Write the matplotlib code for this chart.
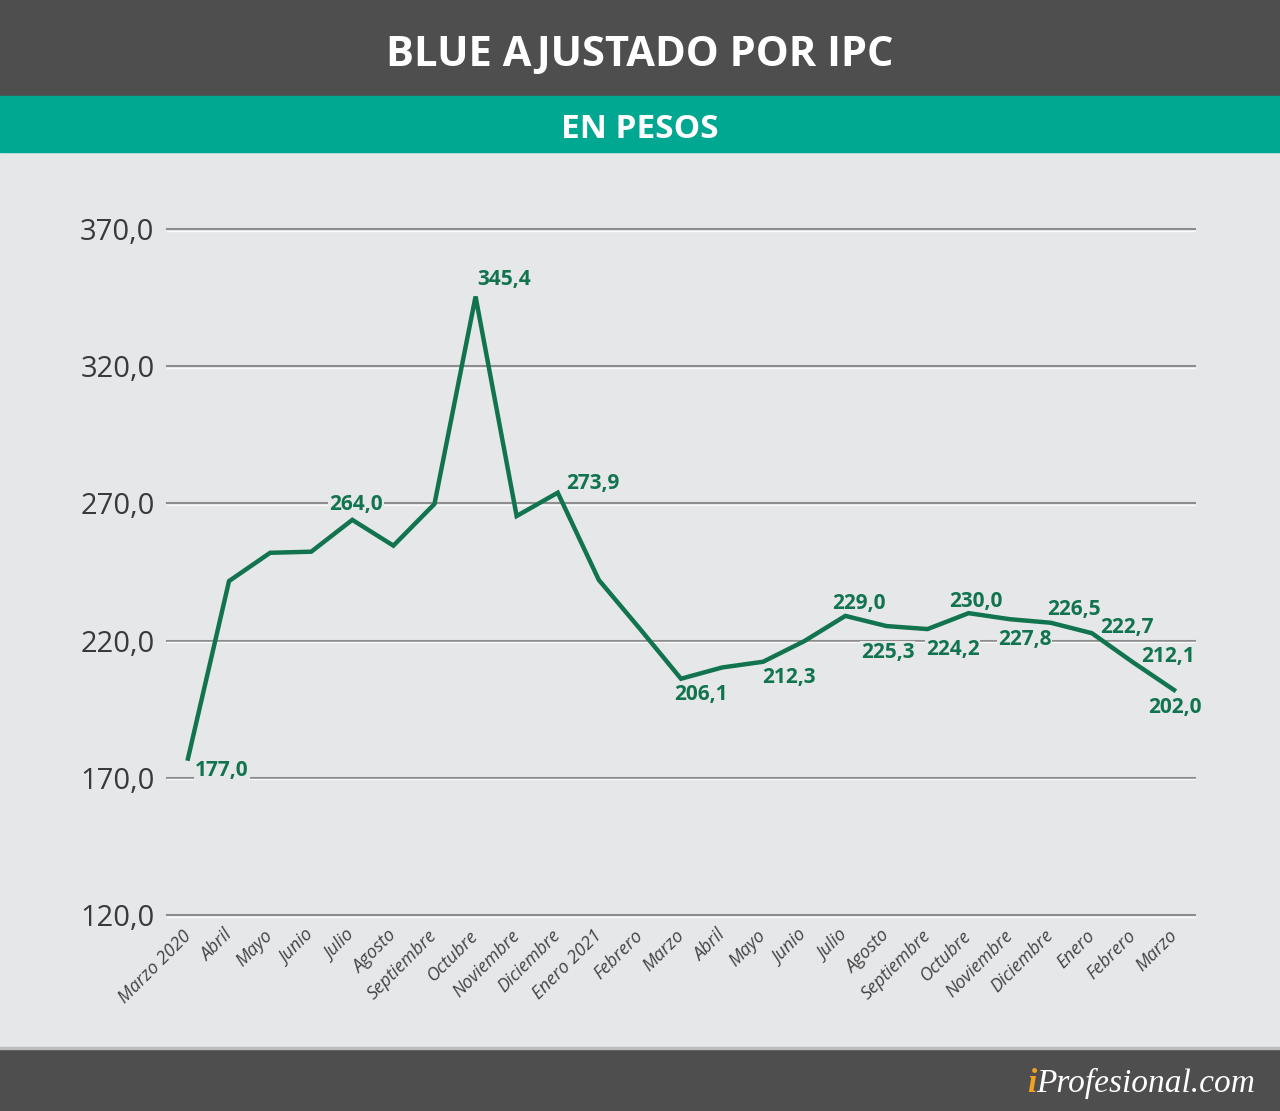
import matplotlib
matplotlib.use('Agg')
import matplotlib.pyplot as plt
import matplotlib.transforms as mtransforms
from matplotlib.patches import Rectangle

# valores del blue ajustado por IPC, marzo 2020 - marzo 2022
meses = ['Marzo 2020', 'Abril', 'Mayo', 'Junio', 'Julio', 'Agosto', 'Septiembre',
         'Octubre', 'Noviembre', 'Diciembre', 'Enero 2021', 'Febrero', 'Marzo',
         'Abril', 'Mayo', 'Junio', 'Julio', 'Agosto', 'Septiembre', 'Octubre',
         'Noviembre', 'Diciembre', 'Enero', 'Febrero', 'Marzo']
valores = [177.0, 241.7, 252.0, 252.4, 264.0, 254.6, 269.8, 345.4, 265.4, 273.9,
           242.1, 224.3, 206.1, 210.2, 212.3, 219.8, 229.0, 225.3, 224.2, 230.0,
           227.8, 226.5, 222.7, 212.1, 202.0]
etiquetados = [0, 4, 7, 9, 12, 14, 16, 17, 18, 19, 20, 21, 22, 23, 24]
yticks = [120, 170, 220, 270, 320, 370]

# desplazamiento de cada etiqueta (pixeles)
offsets = {0: (34, -12), 4: (4, 15), 7: (29, 17), 9: (35, 9), 12: (20, -16),
           14: (26, -16), 16: (14, 12), 17: (1, -26), 18: (25, -20), 19: (7, 12),
           20: (15, -20), 21: (23, 13), 22: (35, 6), 23: (35, 6), 24: (1, -18)}

BG = '#e6e7e9'
DARK = '#4e4e4e'
TEAL = '#00a892'
GREEN = '#11744f'
SANS = 'Open Sans'

def fmt(v):
    return '{:.1f}'.format(v).replace('.', ',')

W, H = 1280, 1111
fig = plt.figure(figsize=(W/100, H/100), dpi=100)
fig.patch.set_facecolor(BG)

# franjas de encabezado y pie
fig.add_artist(Rectangle((0, 1-96/H), 1, 96/H, transform=fig.transFigure, color=DARK, zorder=0))
fig.add_artist(Rectangle((0, 1-152/H), 1, 56/H, transform=fig.transFigure, color=TEAL, zorder=0))
fig.add_artist(Rectangle((0, 0), 1, 63/H, transform=fig.transFigure, color=DARK, zorder=0))
fig.add_artist(Rectangle((0, 62/H), 1, 2/H, transform=fig.transFigure, color='#bdbdbd', zorder=0))

fig.text(0.5, 1-56/H, 'BLUE AJUSTADO POR IPC', ha='center', va='center', color='white',
         fontsize=30, fontweight='bold', family=SANS)
fig.text(0.5, 1-130/H, 'EN PESOS', ha='center', va='center', color='white',
         fontsize=24, fontweight='bold', family=SANS)

ax = fig.add_axes([167/W, 196/H, 1028/W, 686/H])
ax.set_facecolor('none')
ax.set_xlim(-0.51, 24.51)
ax.set_ylim(120, 370)
for s in ax.spines.values():
    s.set_visible(False)

# lineas de grilla con brillo debajo
hl = mtransforms.offset_copy(ax.get_yaxis_transform(), fig=fig, x=0, y=-1.6, units='dots')
for y in yticks:
    ax.plot([0, 1], [y, y], transform=ax.get_yaxis_transform(), color='#8d8d8d', lw=1.5,
            zorder=1, clip_on=False)
    ax.plot([0, 1], [y, y], transform=hl, color='#fafafa', lw=1.0, zorder=1, clip_on=False)

ax.plot(range(len(valores)), valores, color=GREEN, lw=3.2, zorder=4, clip_on=False,
        solid_joinstyle='miter')

for i in etiquetados:
    dx, dy = offsets[i]
    ax.annotate(fmt(valores[i]), xy=(i, valores[i]), xytext=(dx, dy), textcoords='offset pixels',
                ha='center', va='center', color=GREEN, fontsize=15, fontweight='bold',
                family=SANS, zorder=3,
                bbox=dict(boxstyle='square,pad=0.05', fc=BG, ec='none'))

ax.set_yticks(yticks)
ax.set_yticklabels([fmt(v) for v in yticks], fontsize=21, color='#3a3a3a', family=SANS)
ax.set_xticks(range(len(meses)))
ax.set_xticklabels(meses, rotation=45, ha='right', va='center', rotation_mode='anchor',
                   fontsize=13, fontstyle='italic', color='#444444', family=SANS)
ax.tick_params(axis='y', length=0, pad=9)
ax.tick_params(axis='x', length=0, pad=13)

# logo
t_i = fig.text(1027/W, 1-1092/H, 'i', ha='left', va='baseline', color='#eea21e',
               fontsize=24, fontstyle='italic', fontweight='bold', family='Liberation Serif')
ax.annotate('Profesional.com', xy=(1, 0), xycoords=t_i, ha='left', va='bottom',
            color='white', fontsize=24, fontstyle='italic', family='Liberation Serif',
            annotation_clip=False)

fig.savefig('out.png', dpi=100, facecolor=BG)
